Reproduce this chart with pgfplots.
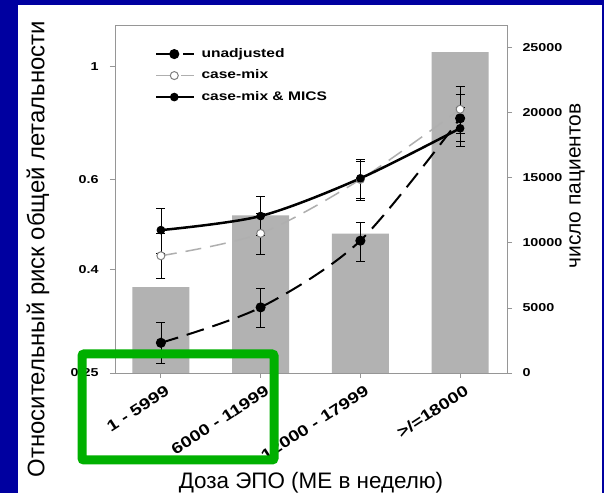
\documentclass[border=0pt]{standalone}
\usepackage{fontspec}
\setmainfont{Liberation Sans}
\newfontfamily\widefont[FakeStretch=1.25]{Liberation Sans}
\usepackage{pgfplots}
\usepackage{pgfplotstable}
\pgfplotsset{compat=1.18}

\definecolor{slideblue}{RGB}{0,0,160}
\definecolor{markgreen}{RGB}{0,176,0}
\definecolor{framegray}{RGB}{150,150,150}
\definecolor{bargray}{RGB}{178,178,178}
\definecolor{casemixgray}{RGB}{175,175,175}

% number of patients per dose group (right axis)
\pgfplotstableread{
x n
0 6600
1 12100
2 10700
3 24650
}\patients

% relative risk of all-cause mortality with 95% CI
\pgfplotstableread{
x y lo hi
0 0.2866 0.261 0.315
1 0.3364 0.308 0.3666
2 0.4548 0.4135 0.493
3 0.791 0.712 0.88
}\unadjusted

\pgfplotstableread{
x y lo hi
0 0.4248 0.3835 0.47
1 0.470 0.428 0.515
2 0.600 0.55 0.65
3 0.824 0.74 0.913
}\casemix

\pgfplotstableread{
x y lo hi
0 0.477 0.43 0.527
1 0.5084 0.465 0.5565
2 0.603 0.5466 0.657
3 0.756 0.696 0.83
}\mics

\pgfplotsset{
  common/.style={
    at={(115bp,120bp)}, anchor=south west,
    width=392bp, height=348bp, scale only axis,
    xmin=-0.46, xmax=3.47,
    axis line style={framegray, line width=0.8bp},
    major tick style={framegray, line width=0.8bp},
    major tick length=5bp, tick align=outside,
    tick label style={font=\widefont\bfseries\fontsize{11.5}{13}\selectfont},
  },
  errs/.style={
    error bars/.cd, y dir=both, y explicit,
    error bar style={black, line width=0.7bp, solid},
    error mark options={black, line width=0.7bp, mark size=4.5bp, rotate=90, solid},
  },
}

\begin{document}
\begin{tikzpicture}
\useasboundingbox (0,0) rectangle (604bp,493bp);
\fill[slideblue] (0,0) rectangle (604bp,493bp);
\fill[white] (18bp,0) rectangle (602bp,488bp);

% bars: number of patients
\begin{axis}[common,
  axis x line=none,
  axis y line*=right,
  ymin=0, ymax=26730,
  scaled y ticks=false,
  ytick={0,5000,10000,15000,20000,25000},
  yticklabels={0,5000,10000,15000,20000,25000},
  yticklabel style={anchor=west, xshift=7bp},
  ylabel={число пациентов},
  ylabel style={font=\fontsize{21}{24}\selectfont, at={(axis description cs:1.1786,0.537)}, anchor=center},
]
\addplot[ybar, bar width=0.57, fill=bargray, draw=none] table[x=x, y=n] {\patients};
\end{axis}

% relative risk curves
\begin{axis}[common,
  ymode=log,
  ymin=0.25, ymax=1.206,
  ytick={0.25,0.4,0.6,1},
  yticklabels={0.25,0.4,0.6,1},
  ytick pos=left, xtick pos=bottom,
  xtick={0,1,2,3},
  xticklabels={1 - 5999, 6000 - 11999, 12000 - 17999, >/=18000},
  xticklabel style={rotate=33, anchor=east, font=\widefont\bfseries\fontsize{15.5}{17}\selectfont, yshift=-13bp, xshift=3bp},
  yticklabel style={anchor=east, xshift=-8bp},
  xlabel={Доза ЭПО (МЕ в неделю)},
  xlabel style={font=\fontsize{22.5}{26}\selectfont, at={(axis description cs:0.5,-0.3305)}, anchor=base},
  ylabel={Относительный риск общей летальности},
  ylabel style={font=\fontsize{24}{27}\selectfont, at={(axis description cs:-0.1964,0.356)}, anchor=center},
  legend style={draw=none, fill=none, at={(axis description cs:0.094,0.94)}, anchor=north west,
    font=\widefont\bfseries\fontsize{12.5}{14}\selectfont,
    nodes={inner sep=0pt, text height=9bp, text depth=3bp},
    row sep=9.5bp, column sep=7bp},
  legend cell align=left,
  legend image code/.code={\draw[mark repeat=2,mark phase=2,#1] plot coordinates {(0bp,0bp) (18bp,0bp) (37bp,0bp)};},
]
\addplot[black, line width=2bp, dash pattern=on 18bp off 9bp, smooth, tension=0.5,
  mark=*, mark size=4bp, mark options={solid, fill=black}, errs]
  table[x=x, y=y, y error plus expr=\thisrow{hi}-\thisrow{y}, y error minus expr=\thisrow{y}-\thisrow{lo}] {\unadjusted};
\addlegendentry{unadjusted}
\addplot[casemixgray, line width=1.5bp, dash pattern=on 16bp off 9bp, smooth, tension=0.5,
  mark=*, mark size=4bp, mark options={solid, fill=white, draw=gray, line width=1bp}, errs]
  table[x=x, y=y, y error plus expr=\thisrow{hi}-\thisrow{y}, y error minus expr=\thisrow{y}-\thisrow{lo}] {\casemix};
\addlegendentry{case-mix}
\addplot[black, line width=2.5bp, smooth, tension=0.5,
  mark=*, mark size=3bp, mark options={solid, fill=black}, errs]
  table[x=x, y=y, y error plus expr=\thisrow{hi}-\thisrow{y}, y error minus expr=\thisrow{y}-\thisrow{lo}] {\mics};
\addlegendentry{case-mix \& MICS}
\end{axis}

% highlight frame around the lowest dose groups
\draw[markgreen, line width=9bp, rounded corners=2bp] (82bp,139bp) rectangle (274bp,33bp);
\end{tikzpicture}
\end{document}
